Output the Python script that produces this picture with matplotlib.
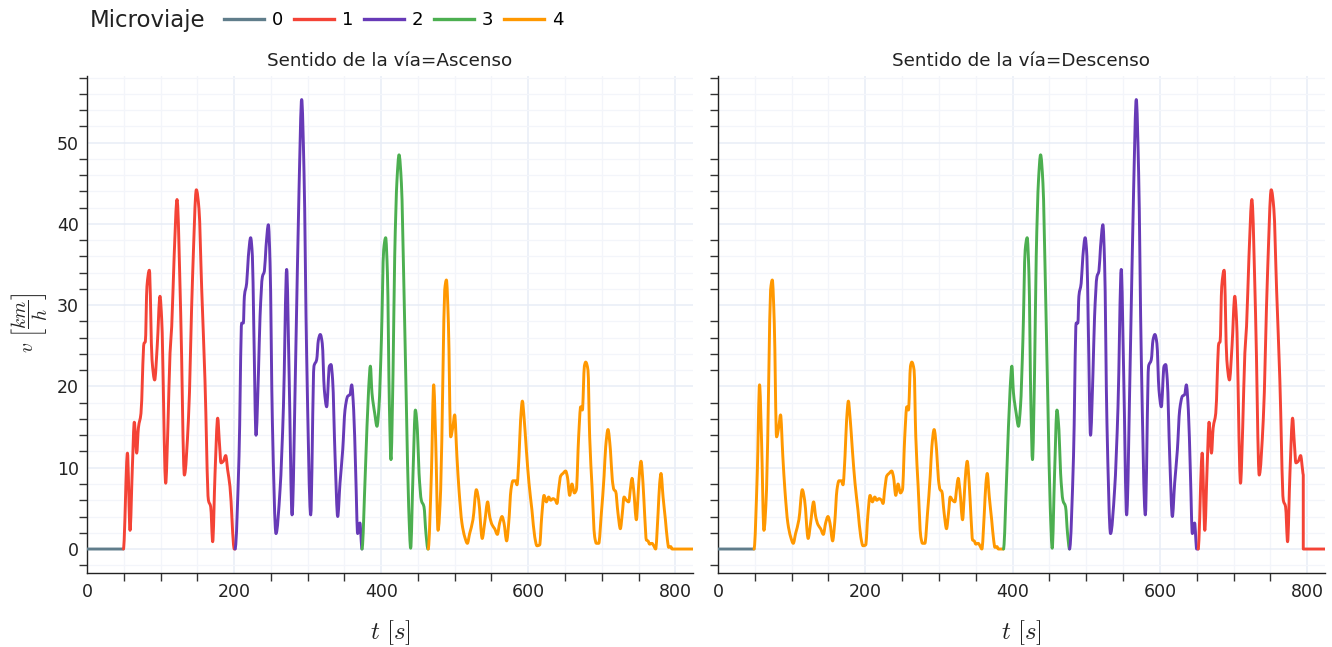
import numpy as np
import matplotlib
matplotlib.use("Agg")
import matplotlib.pyplot as plt
from matplotlib.lines import Line2D
from matplotlib.patches import PathPatch
from matplotlib.path import Path
from matplotlib.ticker import MultipleLocator

# ---------------------------------------------------------------------------
# Perfiles de velocidad por microviaje (tiempo [s] en la vía de ascenso, v [km/h])
# ---------------------------------------------------------------------------
t_mv0 = [0.0]
v_mv0 = [0.0]

t_mv1 = [49.5, 55.0, 58.5, 61.7, 64.3, 67.6, 69.9, 73.4, 77.5, 79.3, 81.5, 84.8,
         88.4, 92.0, 95.5, 99.2, 101.6, 107.0, 110.0, 112.9, 115.2, 118.5, 122.4,
         127.4, 132.4, 137.9, 143.7, 148.7, 152.3, 156.0, 160.4, 165.1, 168.2,
         170.9, 174.1, 177.7, 180.1, 182.2, 185.4, 188.6, 191.3, 194.4, 200.3]
v_mv1 = [0.0, 11.8, 2.3, 10.1, 15.6, 11.8, 14.9, 16.7, 25.3, 25.5, 32.3, 34.3,
         23.3, 20.8, 25.0, 31.1, 28.2, 8.1, 15.0, 24.1, 27.4, 36.0, 43.0,
         29.0, 9.1, 15.9, 33.9, 44.2, 41.8, 31.9, 20.8, 6.0, 5.2,
         0.9, 9.3, 16.1, 13.0, 10.6, 10.8, 11.5, 9.7, 7.7, 0.0]

t_mv2 = [201.3, 206.7, 210.3, 212.6, 214.0, 217.1, 219.4, 222.5, 224.9, 226.7,
         229.8, 233.1, 235.3, 238.5, 241.2, 243.4, 246.6, 248.9, 252.1, 257.0,
         262.5, 267.1, 271.5, 274.8, 278.8, 283.8, 288.3, 291.9, 295.1, 298.7,
         304.2, 308.6, 312.3, 314.6, 317.2, 319.9, 322.7, 325.9, 329.6, 331.8,
         334.0, 337.3, 340.9, 344.0, 347.7, 350.8, 354.5, 357.6, 359.9, 362.6,
         365.4, 368.0, 371.1, 373.9]
v_mv2 = [0.0, 11.4, 27.8, 27.8, 31.1, 32.7, 36.0, 38.3, 36.0, 27.8,
         14.0, 21.6, 28.6, 33.5, 34.2, 37.2, 39.9, 35.2, 15.5, 1.9,
         7.3, 17.5, 34.4, 21.6, 4.2, 23.7, 44.2, 55.3, 46.3, 23.7,
         4.2, 22.5, 23.3, 25.7, 26.4, 25.3, 19.6, 17.5, 22.5, 22.7,
         20.8, 11.4, 4.0, 8.1, 12.2, 17.1, 18.8, 19.0, 20.2, 17.1,
         9.3, 1.9, 3.2, 0.0]

t_mv3 = [373.9, 378.4, 383.0, 385.3, 387.5, 391.2, 394.3, 397.0, 400.3, 403.4,
         406.1, 408.5, 411.2, 413.3, 416.1, 418.4, 421.5, 424.3, 427.5, 431.0,
         434.3, 437.4, 440.1, 443.3, 446.5, 449.2, 451.5, 454.6, 458.2, 460.9,
         463.6]
v_mv3 = [0.0, 9.3, 19.8, 22.5, 19.2, 16.7, 15.1, 17.5, 25.7, 36.8,
         38.3, 33.9, 17.5, 11.0, 21.6, 36.0, 45.4, 48.5, 45.0, 31.9,
         17.5, 5.2, 0.1, 9.3, 17.1, 14.7, 9.3, 6.0, 5.2, 1.9,
         0.0]

t_mv4 = [463.9, 468.3, 471.4, 474.1, 477.3, 480.9, 484.0, 486.4, 488.7, 491.4,
         494.5, 497.6, 499.9, 503.0, 505.8, 509.8, 513.6, 517.2, 520.3, 524.8,
         529.4, 532.6, 537.4, 540.7, 544.8, 547.6, 550.7, 554.3, 558.0, 561.1,
         564.3, 567.0, 570.6, 573.4, 576.5, 579.2, 582.5, 584.7, 587.4, 589.6,
         592.0, 594.2, 597.4, 601.0, 605.0, 608.8, 611.8, 615.5, 618.3, 621.4,
         624.6, 627.8, 630.5, 633.6, 636.9, 639.1, 641.3, 644.1, 647.2, 650.8,
         653.2, 656.3, 659.4, 662.7, 665.4, 668.5, 671.3, 673.6, 676.3, 678.1,
         681.2, 683.5, 686.7, 690.3, 692.6, 695.8, 699.4, 703.1, 705.3, 708.4,
         711.7, 714.3, 716.5, 718.8, 722.0, 725.2, 727.9, 730.2, 733.4, 736.5,
         739.3, 741.1, 743.3, 747.0, 749.2, 751.5, 753.3, 756.0, 758.4, 760.6,
         762.8, 765.0, 768.3, 770.6, 773.2, 776.5, 778.7, 780.5, 783.3, 786.5,
         789.2, 790.9, 793.7, 795.5]
v_mv4 = [0.0, 9.3, 20.2, 13.4, 2.3, 7.3, 21.6, 31.9, 33.1, 27.8,
         13.8, 15.1, 16.5, 11.4, 7.3, 3.2, 1.5, 0.7, 1.9, 3.6,
         7.3, 6.0, 1.3, 3.2, 5.8, 4.0, 3.0, 2.5, 1.8, 3.2,
         4.0, 3.2, 1.0, 3.2, 7.3, 8.4, 8.4, 7.9, 11.4, 15.9,
         18.2, 16.3, 12.2, 8.1, 4.8, 1.5, 0.4, 0.5, 4.0, 6.6,
         5.8, 6.4, 6.0, 6.2, 6.0, 5.6, 7.3, 9.0, 9.3, 9.6,
         8.9, 6.6, 8.0, 6.9, 7.3, 13.8, 17.5, 17.1, 22.5, 23.0,
         22.0, 13.8, 7.7, 1.5, 0.7, 0.7, 4.4, 9.0, 12.6, 14.7,
         12.2, 8.5, 7.3, 7.1, 4.4, 2.5, 4.4, 6.4, 6.0, 5.8,
         7.7, 8.7, 7.3, 3.6, 6.4, 9.7, 10.8, 8.1, 4.0, 1.1,
         1.0, 0.6, 0.7, 0.4, 0.0, 4.4, 8.1, 9.3, 6.4, 3.6,
         1.1, 0.2, 0.3, 0.0]

perfiles = {0: (t_mv0, v_mv0), 1: (t_mv1, v_mv1), 2: (t_mv2, v_mv2),
            3: (t_mv3, v_mv3), 4: (t_mv4, v_mv4)}

colores = {0: "#607D8B", 1: "#F44336", 2: "#673AB7", 3: "#4CAF50", 4: "#FF9800"}

T_FIN = 824.0

# Orden e instante de inicio de cada microviaje según el sentido de la vía
sentidos = ["Ascenso", "Descenso"]
orden = {"Ascenso": [0, 1, 2, 3, 4], "Descenso": [0, 4, 3, 2, 1]}
inicio = {"Ascenso": {0: 0.0, 1: 49.5, 2: 201.3, 3: 373.9, 4: 463.9},
          "Descenso": {0: 0.0, 4: 48.9, 3: 387.5, 2: 477.2, 1: 651.8}}
corte = {"Ascenso": {}, "Descenso": {1: 794.5}}


def tramo(mv, t_ini, t_fin, t_corte=None):
    t0, v0 = perfiles[mv]
    t = np.asarray(t0, float) - t0[0] + t_ini
    v = np.asarray(v0, float)
    if t_corte is not None:
        vc = np.interp(t_corte, t, v)
        keep = t < t_corte
        t = np.r_[t[keep], t_corte, t_corte]
        v = np.r_[v[keep], vc, 0.0]
    if t[-1] < t_fin:
        t = np.r_[t, t_fin]
        v = np.r_[v, 0.0]
    return t, v


def trazo_suave(t, v):
    """Trazo con curvas de Bézier y tangentes monótonas entre los puntos."""
    n = len(t)
    h = np.diff(t)
    d = np.zeros(n - 1)
    ok = h > 0
    d[ok] = np.diff(v)[ok] / h[ok]
    m = np.zeros(n)
    for i in range(1, n - 1):
        if h[i - 1] > 0 and h[i] > 0 and d[i - 1] * d[i] > 0:
            w1 = 2 * h[i] + h[i - 1]
            w2 = h[i] + 2 * h[i - 1]
            m[i] = (w1 + w2) / (w1 / d[i - 1] + w2 / d[i])
    verts = [(t[0], v[0])]
    codes = [Path.MOVETO]
    for i in range(n - 1):
        if h[i] <= 0:
            verts.append((t[i + 1], v[i + 1]))
            codes.append(Path.LINETO)
        else:
            verts += [(t[i] + h[i] / 3, v[i] + m[i] * h[i] / 3),
                      (t[i + 1] - h[i] / 3, v[i + 1] - m[i + 1] * h[i] / 3),
                      (t[i + 1], v[i + 1])]
            codes += [Path.CURVE4] * 3
    return Path(verts, codes)


plt.rcParams["font.family"] = ["DejaVu Sans"]
plt.rcParams["mathtext.fontset"] = "cm"

W, H = 1332, 647
fig = plt.figure(figsize=(W / 100, H / 100), dpi=100)
fig.patch.set_facecolor("white")

paneles = {"Ascenso": (87, 693), "Descenso": (718, 1325)}
y_top, y_bot = 76, 573
LW = 2.1

for s in sentidos:
    x0, x1 = paneles[s]
    ax = fig.add_axes([x0 / W, 1 - y_bot / H, (x1 - x0) / W, (y_bot - y_top) / H])
    ax.set_facecolor("white")

    seq = orden[s]
    for i, mv in enumerate(seq):
        t_ini = inicio[s][mv]
        t_fin = inicio[s][seq[i + 1]] if i + 1 < len(seq) else T_FIN
        t, v = tramo(mv, t_ini, t_fin, corte[s].get(mv))
        ax.add_patch(PathPatch(trazo_suave(t, v), fill=False, edgecolor=colores[mv],
                               lw=LW, capstyle="round", joinstyle="round", zorder=3))

    ax.set_xlim(0, T_FIN)
    ax.set_ylim(-2.95, 58.2)
    ax.xaxis.set_major_locator(MultipleLocator(200))
    ax.xaxis.set_minor_locator(MultipleLocator(50))
    ax.yaxis.set_major_locator(MultipleLocator(10))
    ax.yaxis.set_minor_locator(MultipleLocator(2))

    ax.grid(which="major", color="#E8EDF6", lw=1.1, zorder=0)
    ax.grid(which="minor", color="#F3F5FA", lw=0.9, zorder=0)
    ax.set_axisbelow(True)

    for side in ("top", "right"):
        ax.spines[side].set_visible(False)
    for side in ("left", "bottom"):
        ax.spines[side].set_color("#222222")
        ax.spines[side].set_linewidth(1.0)

    ax.tick_params(which="major", length=0, labelsize=12.5, colors="#222222")
    ax.tick_params(axis="y", which="major", pad=6)
    ax.tick_params(axis="x", which="major", pad=7)
    ax.tick_params(which="minor", length=6, width=1.0, direction="out", color="#333333")
    if s == "Descenso":
        ax.tick_params(axis="y", labelleft=False)

    xc = (x0 + x1) / 2
    fig.text(xc / W, 1 - 61 / H, f"Sentido de la vía={s}", ha="center", va="center",
             fontsize=13.2, color="#222222")
    fig.text(xc / W, 1 - 633 / H, r"$t\ [s]$", ha="center", va="center",
             fontsize=18, color="#222222")

fig.text(30 / W, 1 - 323 / H, r"$v\ \left[\dfrac{km}{h}\right]$", rotation=90,
         ha="center", va="center", fontsize=14, color="#222222")

# Leyenda horizontal con el título a la izquierda
fig.text(90 / W, 1 - 20 / H, "Microviaje", ha="left", va="center", fontsize=16.5,
         color="#222222")
handles = [Line2D([], [], color=colores[k], lw=2.4) for k in range(5)]
fig.legend(handles, [str(k) for k in range(5)], ncol=5, frameon=False,
           loc="center left", bbox_to_anchor=(224 / W, 1 - 20 / H),
           fontsize=13, handlelength=2.2, handletextpad=0.45, columnspacing=0.6,
           borderaxespad=0, borderpad=0)

fig.savefig("out.png", dpi=100, facecolor="white")
